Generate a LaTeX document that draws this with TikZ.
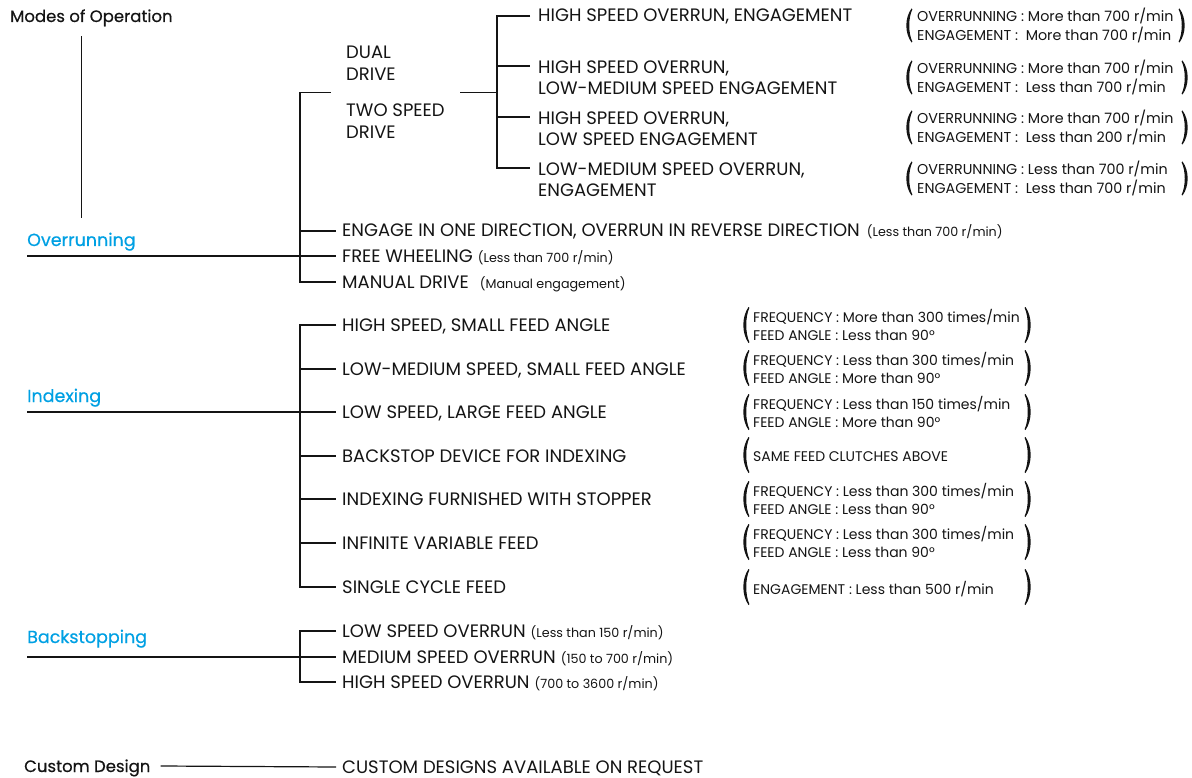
\documentclass[tikz,border=0pt]{standalone}
\usepackage{fontspec}
\setmainfont{Poppins}
\newfontfamily\headfont{Poppins}[FakeBold=0.5]
\usetikzlibrary{fit,calc}
\definecolor{hblue}{RGB}{0,160,227}
\definecolor{ink}{RGB}{20,20,20}
\newcommand{\sm}{\fontsize{12.7}{15}\selectfont}
% left parenthesis: leftmost x, centre y, half height
\newcommand{\lparen}[3]{%
  \fill[ink] ({#1+5.5},{#2-#3}) .. controls ({#1-1.4},{#2-#3*0.45}) and ({#1-1.4},{#2+#3*0.45}) .. ({#1+5.5},{#2+#3})
    -- ({#1+6.4},{#2+#3-0.8}) .. controls ({#1+2.2},{#2+#3*0.45}) and ({#1+2.2},{#2-#3*0.45}) .. ({#1+6.4},{#2-#3+0.8}) -- cycle;}
\newcommand{\rparen}[3]{%
  \fill[ink] ({#1-5.5},{#2-#3}) .. controls ({#1+1.4},{#2-#3*0.45}) and ({#1+1.4},{#2+#3*0.45}) .. ({#1-5.5},{#2+#3})
    -- ({#1-6.4},{#2+#3-0.8}) .. controls ({#1-2.2},{#2+#3*0.45}) and ({#1-2.2},{#2-#3*0.45}) .. ({#1-6.4},{#2-#3+0.8}) -- cycle;}
\begin{document}
\begin{tikzpicture}[x=1pt,y=-1pt,
  conn/.style={draw=ink, line width=1.2pt},
  head/.style={font=\headfont\fontsize{16.5}{21}\selectfont, inner sep=0pt, anchor=west, text height=12pt, text depth=0pt, text=ink},
  bhead/.style={head, font=\headfont\fontsize{17.5}{21}\selectfont, text=hblue},
  item/.style={font=\fontsize{18}{21}\selectfont, inner sep=0pt, anchor=west, text height=12pt, text depth=0pt, text=ink},
  itemtwo/.style={font=\fontsize{18}{21}\selectfont, inner sep=0pt, anchor=north west, align=left, text=ink},
  onote/.style={font=\fontsize{14.3}{19}\selectfont, inner sep=0pt, anchor=west, align=left, text=ink},
  inote/.style={font=\fontsize{14}{18}\selectfont, inner sep=0pt, anchor=west, align=left, text=ink}]
\useasboundingbox (0,0) rectangle (1192,778);

% headings
\node[head] (modes) at (10,16) {Modes of Operation};
\node[bhead] (over) at (27,240) {Overrunning};
\node[bhead] (index) at (27,396) {Indexing};
\node[bhead] (back) at (27,637) {Backstopping};
\node[head] (custom) at (24,766) {Custom Design};

% overrunning
\node[itemtwo, font=\fontsize{18}{22}\selectfont] (dual) at (346,46) {DUAL\\DRIVE};
\node[itemtwo, font=\fontsize{18}{22}\selectfont] (two) at (346,104) {TWO SPEED\\DRIVE};
\node[fit=(dual)(two), inner xsep=15pt, inner ysep=0pt] (dt) {};
\node[item] (r1) at (538,16) {HIGH SPEED OVERRUN, ENGAGEMENT};
\node[itemtwo] (r2) at (538,61) {HIGH SPEED OVERRUN,\\LOW-MEDIUM SPEED ENGAGEMENT};
\node[itemtwo] (r3) at (538,112) {HIGH SPEED OVERRUN,\\LOW SPEED ENGAGEMENT};
\node[itemtwo] (r4) at (538,163) {LOW-MEDIUM SPEED OVERRUN,\\ENGAGEMENT};
\node[onote] (p1) at (917,25.5) {OVERRUNNING : More than 700 r/min\\ENGAGEMENT :\ \ More than 700 r/min};
\node[onote] (p2) at (917,77.5) {OVERRUNNING : More than 700 r/min\\ENGAGEMENT :\ \ Less than 700 r/min};
\node[onote] (p3) at (917,127.5) {OVERRUNNING : More than 700 r/min\\ENGAGEMENT :\ \ Less than 200 r/min};
\node[onote] (p4) at (917,178.5) {OVERRUNNING : Less than 700 r/min\\ENGAGEMENT :\ \ Less than 700 r/min};
\node[item] (eng) at (342,231) {ENGAGE IN ONE DIRECTION, OVERRUN IN REVERSE DIRECTION\hspace{7pt}{\sm(Less than 700 r/min)}};
\node[item] (free) at (342,256) {FREE WHEELING\hspace{5pt}{\sm(Less than 700 r/min)}};
\node[item] (manual) at (342,282) {MANUAL DRIVE\hspace{11pt}{\sm(Manual engagement)}};

% indexing
\node[item] (i1) at (342,325) {HIGH SPEED, SMALL FEED ANGLE};
\node[item] (i2) at (342,369) {LOW-MEDIUM SPEED, SMALL FEED ANGLE};
\node[item] (i3) at (342,412) {LOW SPEED, LARGE FEED ANGLE};
\node[item] (i4) at (342,456) {BACKSTOP DEVICE FOR INDEXING};
\node[item] (i5) at (342,499) {INDEXING FURNISHED WITH STOPPER};
\node[item] (i6) at (342,543) {INFINITE VARIABLE FEED};
\node[item] (i7) at (342,587) {SINGLE CYCLE FEED};
\node[inote] (q1) at (753,325) {FREQUENCY : More than 300 times/min\\FEED ANGLE : Less than 90°};
\node[inote] (q2) at (753,368) {FREQUENCY : Less than 300 times/min\\FEED ANGLE : More than 90°};
\node[inote] (q3) at (753,412) {FREQUENCY : Less than 150 times/min\\FEED ANGLE : More than 90°};
\node[inote] (q4) at (753,457) {SAME FEED CLUTCHES ABOVE};
\node[inote] (q5) at (753,499) {FREQUENCY : Less than 300 times/min\\FEED ANGLE : Less than 90°};
\node[inote] (q6) at (753,542) {FREQUENCY : Less than 300 times/min\\FEED ANGLE : Less than 90°};
\node[inote] (q7) at (753,589) {ENGAGEMENT : Less than 500 r/min};

% backstopping
\node[item] (b1) at (342,631) {LOW SPEED OVERRUN\hspace{5pt}{\sm(Less than 150 r/min)}};
\node[item] (b2) at (342,657) {MEDIUM SPEED OVERRUN\hspace{5pt}{\sm(150 to 700 r/min)}};
\node[item] (b3) at (342,682) {HIGH SPEED OVERRUN\hspace{5pt}{\sm(700 to 3600 r/min)}};

% custom
\node[item] (req) at (342,767) {CUSTOM DESIGNS AVAILABLE ON REQUEST};

% connectors: modes of operation
\draw[conn] ($(over.north |- modes.south)+(0,14)$) -- ([yshift=16pt]over.north);

% overrunning
\draw[conn] (dt.west) -| ([xshift=-42pt]manual.west) -- ([xshift=-6pt]manual.west);
\draw[conn] ([xshift=-42pt]eng.west) -- ([xshift=-6pt]eng.west);
\draw[conn] (over.west |- free.west) -- ([xshift=-6pt]free.west);
\draw[conn] (dt.east) -- ([xshift=-41pt]r1.west |- dt.east);
\draw[conn] ([xshift=-8pt]r1.west) -- ([xshift=-41pt]r1.west) |- ([xshift=-8pt,yshift=-5pt]r4.north west);
\draw[conn] ([xshift=-41pt,yshift=-5pt]r2.north west) -- ([xshift=-8pt,yshift=-5pt]r2.north west);
\draw[conn] ([xshift=-41pt,yshift=-5pt]r3.north west) -- ([xshift=-8pt,yshift=-5pt]r3.north west);

% indexing
\draw[conn] ([xshift=-6pt]i1.west) -| ([xshift=-42pt]i7.west) -- ([xshift=-6pt]i7.west);
\foreach \n in {i2,i4,i5,i6}{\draw[conn] ([xshift=-42pt]\n.west) -- ([xshift=-6pt]\n.west);}
\draw[conn] (index.west |- i3.west) -- ([xshift=-6pt]i3.west);

% backstopping
\draw[conn] ([xshift=-6pt]b1.west) -| ([xshift=-42pt]b3.west) -- ([xshift=-6pt]b3.west);
\draw[conn] (back.west |- b2.west) -- ([xshift=-6pt]b2.west);

% custom
\draw[conn] ([xshift=10pt]custom.east) -- ([xshift=-6pt]req.west);

% parentheses
\lparen{906}{25.5}{17}\rparen{1185}{25.5}{17}
\lparen{906}{77.5}{17}\rparen{1188}{77.5}{17}
\lparen{906}{127.5}{17}\rparen{1188}{127.5}{17}
\lparen{906}{178.5}{17}\rparen{1188}{178.5}{17}
\foreach \c in {325,368,412,455,499,542,587}{\lparen{743}{\c}{18}\rparen{1031}{\c}{18}}
\end{tikzpicture}
\end{document}
